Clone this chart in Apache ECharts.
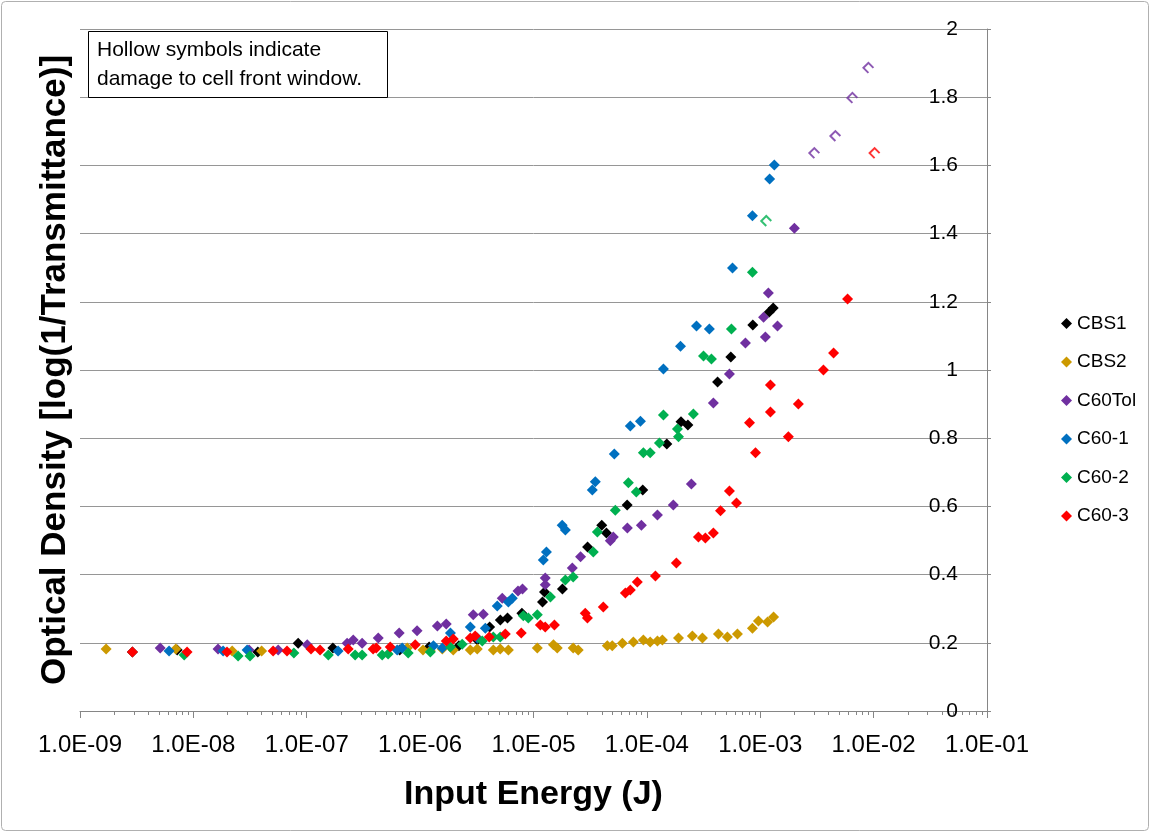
<!DOCTYPE html>
<html>
<head>
<meta charset="utf-8">
<title>Optical Density vs Input Energy</title>
<script src="https://cdn.jsdelivr.net/npm/echarts@6/dist/echarts.min.js"></script>
<style>
  html, body { margin: 0; padding: 0; background: #fff; }
  #chart { width: 1152px; height: 833px; }
</style>
</head>
<body>
<div id="chart"></div>
<script>
// input energy (J) / optical density per sample
const cbs1Energy = [2.9e-9, 7.2e-9, 3.7e-8, 8.4e-8, 1.7e-7, 6.6e-7, 1.2e-6, 2.2e-6, 3.2e-6, 4.1e-6, 5.1e-6, 5.9e-6, 7.9e-6, 1.2e-5, 1.25e-5, 1.8e-5, 3.0e-5, 4.0e-5, 4.4e-5, 6.7e-5, 9.2e-5, 1.5e-4, 2.0e-4, 2.3e-4, 4.2e-4, 5.5e-4, 8.6e-4, 1.2e-3, 1.3e-3];
const cbs1OD = [0.173, 0.179, 0.173, 0.199, 0.185, 0.179, 0.188, 0.191, 0.208, 0.246, 0.267, 0.273, 0.287, 0.320, 0.349, 0.358, 0.481, 0.545, 0.522, 0.604, 0.648, 0.783, 0.848, 0.839, 0.965, 1.038, 1.132, 1.170, 1.182];

const cbs2Energy = [1.7e-9, 7.0e-9, 2.2e-8, 4.0e-8, 7.7e-7, 1.06e-6, 1.23e-6, 1.57e-6, 1.96e-6, 2.77e-6, 3.19e-6, 4.42e-6, 5.09e-6, 6.0e-6, 1.08e-5, 1.5e-5, 1.62e-5, 2.24e-5, 2.48e-5, 4.48e-5, 4.95e-5, 6.08e-5, 7.6e-5, 9.31e-5, 1.07e-4, 1.24e-4, 1.37e-4, 1.9e-4, 2.52e-4, 3.09e-4, 4.28e-4, 5.13e-4, 6.29e-4, 8.53e-4, 9.64e-4, 1.16e-3, 1.31e-3];
const cbs2OD = [0.182, 0.182, 0.176, 0.176, 0.185, 0.179, 0.176, 0.182, 0.179, 0.179, 0.182, 0.179, 0.182, 0.179, 0.185, 0.194, 0.185, 0.185, 0.179, 0.191, 0.191, 0.199, 0.202, 0.208, 0.202, 0.205, 0.208, 0.214, 0.220, 0.214, 0.226, 0.217, 0.226, 0.243, 0.264, 0.261, 0.276];

const c60TolEnergy = [5.1e-9, 1.65e-8, 3.1e-8, 5.6e-8, 1.01e-7, 2.27e-7, 2.57e-7, 3.08e-7, 4.27e-7, 6.54e-7, 9.4e-7, 1.42e-6, 1.7e-6, 2.94e-6, 3.61e-6, 5.3e-6, 7.3e-6, 8.0e-6, 1.27e-5, 1.27e-5, 2.2e-5, 2.6e-5, 4.76e-5, 5.06e-5, 6.73e-5, 8.94e-5, 1.24e-4, 1.71e-4, 2.47e-4, 3.86e-4, 5.35e-4, 7.4e-4, 1.11e-3, 1.07e-3, 1.42e-3, 1.18e-3, 2.0e-3];
const c60TolOD = [0.185, 0.182, 0.179, 0.179, 0.194, 0.199, 0.208, 0.199, 0.214, 0.229, 0.235, 0.249, 0.255, 0.282, 0.284, 0.331, 0.352, 0.358, 0.390, 0.370, 0.419, 0.452, 0.499, 0.510, 0.537, 0.545, 0.575, 0.604, 0.666, 0.903, 0.988, 1.079, 1.097, 1.155, 1.129, 1.226, 1.416];

const c601Energy = [6.1e-9, 1.83e-8, 2.98e-8, 1.89e-7, 6.28e-7, 6.95e-7, 1.31e-6, 1.57e-6, 1.85e-6, 2.77e-6, 3.19e-6, 3.76e-6, 4.79e-6, 6.0e-6, 6.5e-6, 1.22e-5, 1.3e-5, 1.79e-5, 1.91e-5, 3.3e-5, 3.51e-5, 5.16e-5, 7.14e-5, 8.77e-5, 1.4e-4, 1.98e-4, 2.74e-4, 3.56e-4, 5.69e-4, 8.53e-4, 1.21e-3, 1.33e-3];
const c601OD = [0.176, 0.176, 0.179, 0.176, 0.179, 0.185, 0.191, 0.185, 0.229, 0.246, 0.214, 0.243, 0.308, 0.320, 0.331, 0.443, 0.466, 0.545, 0.531, 0.648, 0.672, 0.754, 0.836, 0.850, 1.003, 1.070, 1.129, 1.120, 1.299, 1.452, 1.560, 1.601];

const c602Energy = [8.3e-9, 2.48e-8, 3.16e-8, 7.7e-8, 1.55e-7, 2.67e-7, 3.08e-7, 4.63e-7, 5.22e-7, 7.85e-7, 1.23e-6, 1.85e-6, 2.35e-6, 3.53e-6, 4.42e-6, 5.09e-6, 8.13e-6, 9.0e-6, 1.08e-5, 1.41e-5, 1.91e-5, 2.24e-5, 3.37e-5, 3.66e-5, 5.27e-5, 6.87e-5, 8.07e-5, 9.31e-5, 1.07e-4, 1.29e-4, 1.4e-4, 1.86e-4, 1.9e-4, 2.57e-4, 3.16e-4, 3.71e-4, 5.57e-4, 8.53e-4];
const c602OD = [0.164, 0.161, 0.161, 0.170, 0.164, 0.164, 0.164, 0.164, 0.167, 0.170, 0.173, 0.188, 0.196, 0.205, 0.217, 0.217, 0.279, 0.273, 0.282, 0.334, 0.384, 0.393, 0.466, 0.525, 0.589, 0.669, 0.642, 0.757, 0.757, 0.786, 0.868, 0.827, 0.804, 0.871, 1.041, 1.032, 1.120, 1.287];

const c603Energy = [2.9e-9, 8.8e-9, 1.98e-8, 5.05e-8, 6.7e-8, 1.09e-7, 1.31e-7, 2.32e-7, 3.85e-7, 4.1e-7, 5.45e-7, 9.06e-7, 1.7e-6, 1.96e-6, 2.77e-6, 3.06e-6, 4.07e-6, 5.64e-6, 7.8e-6, 1.15e-5, 1.27e-5, 1.53e-5, 2.86e-5, 2.99e-5, 4.13e-5, 6.46e-5, 7.14e-5, 8.24e-5, 1.19e-4, 1.82e-4, 2.85e-4, 3.28e-4, 3.86e-4, 4.46e-4, 5.35e-4, 6.17e-4, 8.04e-4, 9.08e-4, 1.23e-3, 1.23e-3, 1.77e-3, 2.17e-3, 3.61e-3, 4.43e-3, 5.89e-3];
const c603OD = [0.173, 0.173, 0.173, 0.176, 0.176, 0.182, 0.179, 0.182, 0.182, 0.185, 0.188, 0.194, 0.205, 0.211, 0.214, 0.220, 0.217, 0.226, 0.229, 0.252, 0.246, 0.252, 0.287, 0.273, 0.305, 0.346, 0.355, 0.378, 0.396, 0.434, 0.510, 0.507, 0.522, 0.587, 0.645, 0.610, 0.845, 0.757, 0.877, 0.956, 0.804, 0.900, 1.000, 1.050, 1.208];

// hollow symbols = damage to cell front window
const c60TolHollowEnergy = [3.0e-3, 4.6e-3, 6.5e-3, 9.0e-3];
const c60TolHollowOD = [1.636, 1.686, 1.798, 1.886];
const c602HollowEnergy = [1.13e-3];
const c602HollowOD = [1.437];
const c603HollowEnergy = [1.02e-2];
const c603HollowOD = [1.636];

const seriesNames = ['CBS1', 'CBS2', 'C60Tol', 'C60-1', 'C60-2', 'C60-3'];
const seriesColors = ['#000000', '#CC9900', '#7030A0', '#0070C0', '#00B050', '#FF0000'];
const xTickValues = [1e-9, 1e-8, 1e-7, 1e-6, 1e-5, 1e-4, 1e-3, 1e-2, 1e-1];
const xTickLabels = ['1.0E-09', '1.0E-08', '1.0E-07', '1.0E-06', '1.0E-05', '1.0E-04', '1.0E-03', '1.0E-02', '1.0E-01'];

const FONT = "'Liberation Sans', Arial, sans-serif";

function zip(xs, ys) {
  return xs.map((x, i) => [x, ys[i]]);
}

// 2..9 inside each decade
const minorTicks = [];
xTickValues.slice(0, -1).forEach(d => {
  for (let m = 2; m <= 9; m++) minorTicks.push(d * m);
});

const filled = [
  zip(cbs1Energy, cbs1OD),
  zip(cbs2Energy, cbs2OD),
  zip(c60TolEnergy, c60TolOD),
  zip(c601Energy, c601OD),
  zip(c602Energy, c602OD),
  zip(c603Energy, c603OD)
];

const openDiamond = 'path://M20,10L10,0L0,10L10,20';

const series = filled.map((data, i) => ({
  name: seriesNames[i],
  type: 'scatter',
  data: data,
  symbol: 'diamond',
  symbolSize: 11,
  itemStyle: { color: seriesColors[i], opacity: 1 },
  emphasis: { disabled: true },
  animation: false
}));

[
  [zip(c60TolHollowEnergy, c60TolHollowOD), seriesColors[2]],
  [zip(c602HollowEnergy, c602HollowOD), seriesColors[4]],
  [zip(c603HollowEnergy, c603HollowOD), seriesColors[5]]
].forEach(([data, color], i) => {
  series.push({
    name: 'hollow' + i,
    type: 'scatter',
    data: data,
    symbol: openDiamond,
    symbolSize: 10,
    itemStyle: { color: 'transparent', borderColor: color, borderWidth: 2 },
    emphasis: { disabled: true },
    animation: false
  });
});

const chart = echarts.init(document.getElementById('chart'));
chart.setOption({
  animation: false,
  backgroundColor: '#fff',
  textStyle: { fontFamily: FONT },
  grid: { left: 80, right: 165, top: 29, bottom: 122 },
  legend: {
    data: seriesNames,
    orient: 'vertical',
    left: 1056,
    top: 309,
    icon: 'diamond',
    itemWidth: 11,
    itemHeight: 11,
    itemGap: 19.5,
    textStyle: { fontSize: 19, color: '#000', fontFamily: FONT }
  },
  xAxis: [
    {
      type: 'log',
      logBase: 10,
      min: 1e-9,
      max: 1e-1,
      axisLine: { show: true, lineStyle: { color: '#868686', width: 1 } },
      axisTick: { show: true, customValues: xTickValues, length: 7, lineStyle: { color: '#868686' } },
      axisLabel: {
        customValues: xTickValues,
        margin: 22,
        fontSize: 24,
        color: '#000',
        fontFamily: FONT,
        formatter: v => xTickLabels[Math.round(Math.log10(v)) + 9]
      },
      splitLine: { show: false },
      name: 'Input Energy (J)',
      nameLocation: 'middle',
      nameGap: 67,
      nameTextStyle: { fontSize: 34, fontWeight: 'bold', color: '#000', fontFamily: FONT }
    },
    {
      type: 'log',
      logBase: 10,
      min: 1e-9,
      max: 1e-1,
      position: 'bottom',
      axisLine: { show: false },
      axisTick: { show: true, customValues: minorTicks, length: 4, lineStyle: { color: '#868686' } },
      axisLabel: { show: false },
      splitLine: { show: false }
    }
  ],
  yAxis: {
    type: 'value',
    position: 'right',
    min: 0,
    max: 2,
    interval: 0.2,
    axisLine: { show: true, lineStyle: { color: '#868686' } },
    axisTick: { show: true, length: 4, lineStyle: { color: '#868686' } },
    axisLabel: { inside: true, margin: 29, fontSize: 21, color: '#000', fontFamily: FONT },
    splitLine: { show: true, lineStyle: { color: '#969696', width: 1 } }
  },
  graphic: [
    {
      type: 'rect',
      z: -10,
      shape: { x: 1.5, y: 1.5, width: 1147, height: 829, r: 4 },
      style: { fill: 'none', stroke: '#b0b0b0', lineWidth: 1 }
    },
    {
      type: 'text',
      x: 55,
      y: 370,
      rotation: Math.PI / 2,
      style: {
        text: 'Optical Density [log(1/Transmittance)]',
        fontSize: 35,
        fontWeight: 'bold',
        fontFamily: FONT,
        fill: '#000',
        align: 'center',
        verticalAlign: 'middle'
      }
    },
    {
      type: 'rect',
      z: 50,
      shape: { x: 88.5, y: 31.5, width: 299, height: 66 },
      style: { fill: '#fff', stroke: '#000', lineWidth: 1 }
    },
    {
      type: 'text',
      z: 51,
      x: 97,
      y: 36,
      style: {
        text: 'Hollow symbols indicate\ndamage to cell front window.',
        fontSize: 21,
        lineHeight: 29,
        fontFamily: FONT,
        fill: '#000'
      }
    }
  ],
  series: series
});
</script>
</body>
</html>
